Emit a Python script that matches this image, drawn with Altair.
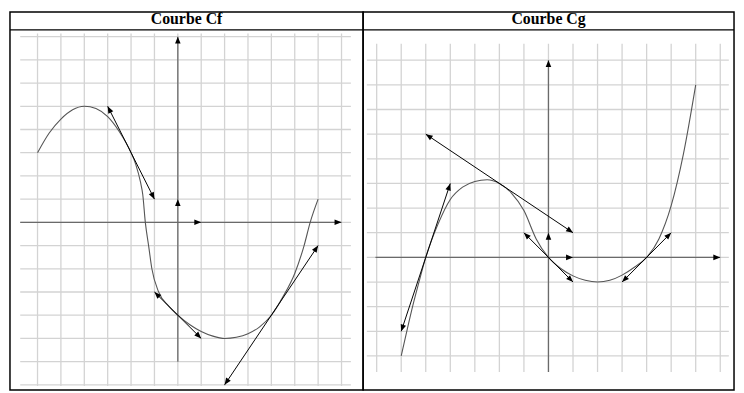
import math
import altair as alt
import pandas as pd

# ---------------- Courbe Cf (left panel) ----------------
cf_x = [-6, -5.5, -5, -4.5, -4, -3.5, -3, -2.5, -2, -1.8, -1.6, -1.5, -1.39, -1.25, -1.11,
        -0.82, -0.4, 0, 0.5, 1, 1.5, 2, 2.5, 3, 3.5, 4, 4.5, 5, 5.4, 5.66, 6]
cf_y = [3, 3.85, 4.45, 4.85, 5, 4.9, 4.55, 3.9, 3, 2.5, 1.75, 1.2, 0, -1, -2,
        -3, -3.6, -4, -4.4, -4.7, -4.9, -5, -4.95, -4.8, -4.5, -4, -3.2, -2.2, -1, 0, 1]
cf_tan_x1 = [-3, -1, 2]
cf_tan_y1 = [5, -3, -7]
cf_tan_x2 = [-1, 1, 6]
cf_tan_y2 = [1, -5, -1]

# ---------------- Courbe Cg (right panel) ----------------
cg_x = [-6, -5.75, -5.5, -5.25, -5, -4.5, -4, -3.5, -3, -2.5, -2, -1.5, -1, -0.5, 0,
        0.5, 1, 1.5, 2, 2.5, 3, 3.5, 4, 4.5, 5, 5.5, 6]
cg_y = [-4, -2.9, -1.85, -0.9, 0, 1.35, 2.35, 2.85, 3.08, 3.15, 3, 2.6, 1.9, 0.75, 0,
        -0.45, -0.75, -0.93, -1, -0.93, -0.72, -0.4, 0, 0.75, 2.1, 4.2, 7]
cg_tan_x1 = [-6, -5, -1, 3]
cg_tan_y1 = [-3, 5, 1, -1]
cg_tan_x2 = [-4, 1, 1, 5]
cg_tan_y2 = [3, 1, -1, 1]

titles = ["Courbe Cf", "Courbe Cg"]

ARROW = "M0,0L0.7,1.75L-0.7,1.75Z"


def panel(title, cx, cy, tx1, ty1, tx2, ty2, xdom, ydom, title_sep, title_y,
          vgrid, vgrid_y, hgrid, hgrid_x, xaxis_x, yaxis_y, width, height):
    ux = width / (xdom[1] - xdom[0])
    uy = height / (ydom[1] - ydom[0])
    xs = alt.Scale(domain=xdom, nice=False, zero=False)
    ys = alt.Scale(domain=ydom, nice=False, zero=False)

    def X(f):
        return alt.X(f, type="quantitative", scale=xs, axis=None)

    def Y(f):
        return alt.Y(f, type="quantitative", scale=ys, axis=None)

    vg = pd.DataFrame({"x": vgrid, "y0": vgrid_y[0], "y1": vgrid_y[1]})
    hg = pd.DataFrame({"y": hgrid, "x0": hgrid_x[0], "x1": hgrid_x[1]})
    vgl = alt.Chart(vg).mark_rule(color="#d3d3d3", strokeWidth=1.3).encode(
        x=X("x"), y=Y("y0"), y2="y1")
    hgl = alt.Chart(hg).mark_rule(color="#d3d3d3", strokeWidth=1.3).encode(
        y=Y("y"), x=X("x0"), x2="x1")

    ax = pd.DataFrame({"x0": [xaxis_x[0], 0], "x1": [xaxis_x[1], 0],
                       "y0": [0, yaxis_y[0]], "y1": [0, yaxis_y[1]]})
    axl = alt.Chart(ax).mark_rule(color="#6a6a6a", strokeWidth=1.3).encode(
        x=X("x0"), x2="x1", y=Y("y0"), y2="y1")

    curve = pd.DataFrame({"x": cx, "y": cy})
    cl = alt.Chart(curve).mark_line(color="#555555", strokeWidth=1.1,
                                    interpolate="monotone").encode(
        x=X("x"), y=Y("y"), order="x:Q")

    tan = pd.DataFrame({"x1": tx1, "y1": ty1, "x2": tx2, "y2": ty2})
    tl = alt.Chart(tan).mark_rule(color="black", strokeWidth=1).encode(
        x=X("x1"), y=Y("y1"), x2="x2", y2="y2")

    hx, hy, ha = [], [], []

    def head(px, py, dx, dy):
        hx.append(px)
        hy.append(py)
        ha.append(math.degrees(math.atan2(dx * ux, dy * uy)) % 360)

    for a, b, c, d in zip(tx1, ty1, tx2, ty2):
        head(c, d, c - a, d - b)
        head(a, b, a - c, b - d)
    head(xaxis_x[1], 0, 1, 0)
    head(0, yaxis_y[1], 0, 1)
    head(1, 0, 1, 0)
    head(0, 1, 0, 1)
    heads = pd.DataFrame({"x": hx, "y": hy, "a": ha})
    hl = alt.Chart(heads).mark_point(shape=ARROW, size=64, filled=True,
                                     color="black", opacity=1, strokeWidth=0).encode(
        x=X("x"), y=Y("y"), angle=alt.Angle("a:Q", scale=None))

    sep = pd.DataFrame({"x0": [xdom[0]], "x1": [xdom[1]], "y": [title_sep]})
    sl = alt.Chart(sep).mark_rule(color="black", strokeWidth=1.5).encode(
        x=X("x0"), x2="x1", y=Y("y"))

    tt = pd.DataFrame({"x": [(xdom[0] + xdom[1]) / 2], "y": [title_y], "t": [title]})
    tx = alt.Chart(tt).mark_text(font="Liberation Serif", fontSize=16, fontWeight="bold",
                                 color="black", baseline="middle", align="center").encode(
        x=X("x"), y=Y("y"), text="t:N")

    return alt.layer(vgl, hgl, axl, cl, tl, hl, sl, tx).properties(width=width, height=height)


H = 382
left = panel(titles[0], cf_x, cf_y, cf_tan_x1, cf_tan_y1, cf_tan_x2, cf_tan_y2,
             xdom=[-7.178, 7.923], ydom=[-7.218, 9.058], title_sep=8.291, title_y=8.739,
             vgrid=list(range(-6, 8)), vgrid_y=(-7.05, 8.13),
             hgrid=list(range(-7, 9)), hgrid_x=(-6.74, 7.4),
             xaxis_x=(-6.74, 7.0), yaxis_y=(-6.0, 8.0), width=357, height=H)
right = panel(titles[1], cg_x, cg_y, cg_tan_x1, cg_tan_y1, cg_tan_x2, cg_tan_y2,
              xdom=[-7.553, 7.561], ydom=[-5.377, 9.952], title_sep=9.230, title_y=9.651,
              vgrid=list(range(-7, 8)), vgrid_y=(-4.65, 8.67),
              hgrid=list(range(-4, 9)), hgrid_x=(-7.4, 7.35),
              xaxis_x=(-7.05, 7.0), yaxis_y=(-4.65, 8.0), width=375, height=H)

chart = alt.hconcat(left, right, spacing=0, bounds="flush").resolve_scale(
    x="independent", y="independent").configure_view(
    stroke="black", strokeWidth=1.5).properties(padding=0, background="white")

chart.save("out.html", embed_options={"renderer": "svg", "actions": False})
